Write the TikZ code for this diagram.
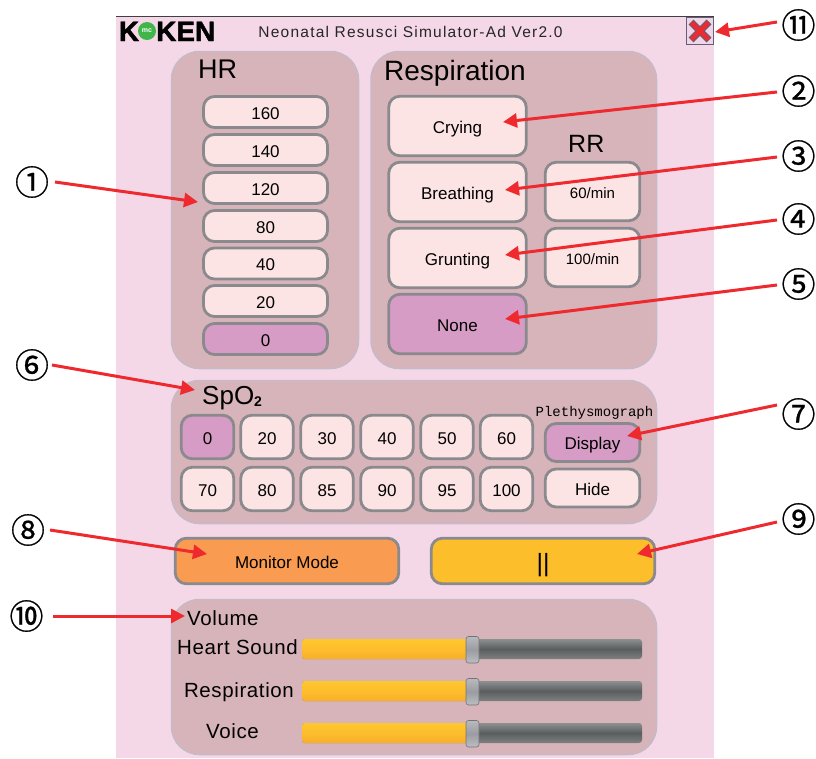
\documentclass[tikz,border=0pt]{standalone}
\usepackage{fontspec}
\setmainfont{Liberation Sans}
\newfontfamily\cjkfont[FakeBold=0.7]{Noto Sans CJK JP}
\newfontfamily\monofont{Liberation Mono}
\newfontfamily\spacedfont[LetterSpace=8]{Liberation Sans}
\newfontfamily\spacedvol[LetterSpace=3]{Liberation Sans}
\newfontfamily\logofont[BoldFeatures={FakeBold=1.6}]{Liberation Sans}
\usetikzlibrary{arrows.meta}
\definecolor{pagepink}{HTML}{F5D8E8}
\definecolor{panelfill}{HTML}{D7B4BA}
\definecolor{panelline}{HTML}{C6BAC6}
\definecolor{btnfill}{HTML}{FDE4E4}
\definecolor{btnline}{HTML}{8A8A8E}
\definecolor{selfill}{HTML}{D69CC6}
\definecolor{orangefill}{HTML}{F99B50}
\definecolor{yellowfill}{HTML}{FDBE2C}
\definecolor{arrowred}{HTML}{EE2A2E}
\definecolor{logogreen}{HTML}{3FB54A}
\definecolor{closeline}{HTML}{665C7C}
\definecolor{closefill}{HTML}{F0D6E4}
\definecolor{railtop}{HTML}{8E9090}
\definecolor{railmid}{HTML}{5A5E5E}
\definecolor{railbot}{HTML}{7E8080}
\definecolor{yellowtop}{HTML}{FFC72E}
\definecolor{yellowbot}{HTML}{F9AE2A}
\definecolor{thumbtop}{HTML}{B8BABE}
\definecolor{thumbmid}{HTML}{9A9CA2}
\definecolor{thumbbot}{HTML}{BCBEC2}
\newcommand{\fs}[1]{\fontsize{#1}{#1}\selectfont}
\tikzset{
  x=1pt,y=-1pt,
  panel/.style={draw=panelline,fill=panelfill,line width=1.5pt,rounded corners=28pt},
  btn/.style={draw=btnline,fill=btnfill,line width=2.8pt,rounded corners=11pt,inner sep=0pt,font=\fs{17},text=black,text height=14pt,text depth=0pt},
  hrbtn/.style={btn,minimum width=124pt,minimum height=31pt},
  rsbtn/.style={btn,minimum width=137.5pt,minimum height=59.5pt},
  rrbtn/.style={btn,minimum width=94.5pt,minimum height=58.5pt,font=\fs{15}},
  spbtn/.style={btn,minimum width=52.5pt,minimum height=43.5pt},
  plbtn/.style={btn,minimum width=94.5pt,minimum height=38pt},
  modebtn/.style={btn,minimum width=223.5pt,minimum height=45.5pt},
  sel/.style={fill=selfill},
  heading/.style={inner sep=0pt,text=black},
  callout/.style={inner sep=0pt,font=\cjkfont\fs{34}},
  pointer/.style={draw=arrowred,line width=3pt,-{Triangle[length=14pt,width=14pt]}},
  vollabel/.style={inner sep=0pt,font=\spacedvol\fs{20.5},text=black,anchor=base},
}
\begin{document}
\begin{tikzpicture}
\useasboundingbox (0,0) rectangle (816,758);
\fill[white] (0,0) rectangle (816,758);
\fill[pagepink] (116,16) rectangle (714,758);
\draw[black!75,line width=1pt] (116,16) -- (714,16);

% logo
\node[inner sep=0pt,font=\logofont\bfseries\fs{28},anchor=base] (logoK) at (129,41) {K};
\node[inner sep=0pt,font=\logofont\bfseries\fs{28},anchor=base west] (logoKEN) at (156,41) {KEN};
\node[circle,fill=logogreen,minimum size=18pt,inner sep=0pt,text=white,font=\bfseries\fs{7}] (logoO) at (147,31) {mc};

% title
\node[inner sep=0pt,font=\spacedfont\fs{15.5},text=black!85] (title) at (410.5,32) {Neonatal Resusci Simulator-Ad Ver2.0};

% close
\node[draw=closeline,fill=closefill,minimum size=27pt,inner sep=0pt,line width=1pt] (close) at (700,31) {};
\draw[closeline,line width=7pt] (691,22) -- (709,40) (709,22) -- (691,40);
\draw[arrowred,line width=4.5pt] (691.5,22.5) -- (708.5,39.5) (708.5,22.5) -- (691.5,39.5);

% panels
\draw[panel] (171.5,51.5) rectangle (358.5,368.5);
\draw[panel] (371,51.5) rectangle (656.5,368.5);
\draw[panel] (171.5,380.5) rectangle (656.5,523.5);
\draw[panel] (171.5,599.5) rectangle (656.5,754.5);

% headings
\node[heading,anchor=base west,font=\fs{27}] (hrhead) at (198,78) {HR};
\node[heading,anchor=base west,font=\fs{28}] (rshead) at (384,80) {Respiration};
\node[heading,anchor=base west,font=\fs{25}] (rrhead) at (568,152) {RR};
\node[heading,anchor=base west,font=\fs{26}] (sphead) at (202,404) {SpO\raisebox{-2pt}{\bfseries\fs{14}2}};
\node[heading,anchor=base,font=\monofont\fs{14}] (plhead) at (594.5,416) {Plethysmograph};

% HR
\node[hrbtn] (h160) at (265.5,112) {160};
\node[hrbtn] (h140) at (265.5,150) {140};
\node[hrbtn] (h120) at (265.5,188) {120};
\node[hrbtn] (h80) at (265.5,226) {80};
\node[hrbtn] (h40) at (265.5,263.5) {40};
\node[hrbtn] (h20) at (265.5,301) {20};
\node[hrbtn,sel] (h0) at (265.5,339) {0};

% Respiration
\node[rsbtn] (crying) at (457.5,126) {Crying};
\node[rsbtn] (breathing) at (457.5,192) {Breathing};
\node[rsbtn] (grunting) at (457.5,258) {Grunting};
\node[rsbtn,sel] (none) at (457.5,324) {None};
\node[rrbtn] (rr60) at (592.5,191.5) {60/min};
\node[rrbtn] (rr100) at (592.5,257.5) {100/min};

% SpO2
\node[spbtn,sel] (s0) at (207.5,437) {0};
\node[spbtn] (s20) at (267,437) {20};
\node[spbtn] (s30) at (327,437) {30};
\node[spbtn] (s40) at (387,437) {40};
\node[spbtn] (s50) at (447,437) {50};
\node[spbtn] (s60) at (506.5,437) {60};
\node[spbtn] (s70) at (207.5,489) {70};
\node[spbtn] (s80) at (267,489) {80};
\node[spbtn] (s85) at (327,489) {85};
\node[spbtn] (s90) at (387,489) {90};
\node[spbtn] (s95) at (447,489) {95};
\node[spbtn] (s100) at (506.5,489) {100};
\node[plbtn,sel] (display) at (592.5,442.5) {Display};
\node[plbtn] (hide) at (592.5,488) {Hide};

% mode
\node[modebtn,fill=orangefill] (mode) at (287,561) {Monitor Mode};
\node[modebtn,fill=yellowfill,font=\fs{25},text height=20pt,text depth=0pt] (pause) at (543,561) {||};

% volume
\node[vollabel,anchor=base west] (vol) at (187,625) {Volume};
\node[vollabel] (lheart) at (237.5,654) {Heart Sound};
\node[vollabel] (lresp) at (239,697) {Respiration};
\node[vollabel] (lvoice) at (232.5,738) {Voice};

\foreach \yy in {639,681,723}{
  \shade[top color=railtop,bottom color=railbot,middle color=railmid,rounded corners=3pt] (302,\yy) rectangle (642,\yy+20);
  \shade[top color=yellowtop,bottom color=yellowbot,middle color=yellowtop!60!yellowbot,rounded corners=3pt] (302,\yy) rectangle (473,\yy+20);
  \shade[top color=thumbtop,bottom color=thumbbot,middle color=thumbmid,draw=black!55,line width=.6pt,rounded corners=2.5pt] (466,\yy-2.5) rectangle (479,\yy+24);
}

% callouts
\node[callout] (n1) at (32,182) {①};
\node[callout] (n2) at (798.5,91) {②};
\node[callout] (n3) at (798.5,156) {③};
\node[callout] (n4) at (798.5,219) {④};
\node[callout] (n5) at (798.5,284) {⑤};
\node[callout] (n6) at (32,365) {⑥};
\node[callout] (n7) at (798.5,414) {⑦};
\node[callout] (n8) at (28,530) {⑧};
\node[callout] (n9) at (798.5,519) {⑨};
\node[callout] (n10) at (26.5,616) {⑩};
\node[callout] (n11) at (798.5,25) {⑪};

\coordinate (t1) at (198,202);
\coordinate (t2) at (503,122);
\coordinate (t3) at (505,190);
\coordinate (t4) at (505,255);
\coordinate (t5) at (505,319);
\coordinate (t6) at (195,390);
\coordinate (t7) at (627,436);
\coordinate (t8) at (207,554);
\coordinate (t9) at (637,554);
\coordinate (t10) at (185,616);
\coordinate (t11) at (715,32);

\draw[pointer] (55,182) -- (t1);
\draw[pointer] (777,92) -- (t2);
\draw[pointer] (777,157) -- (t3);
\draw[pointer] (777,220) -- (t4);
\draw[pointer] (777,285) -- (t5);
\draw[pointer] (52,365) -- (t6);
\draw[pointer] (777,405) -- (t7);
\draw[pointer] (50,530) -- (t8);
\draw[pointer] (777,522) -- (t9);
\draw[pointer] (53,616) -- (t10);
\draw[pointer] (777,22) -- (t11);
\end{tikzpicture}
\end{document}
